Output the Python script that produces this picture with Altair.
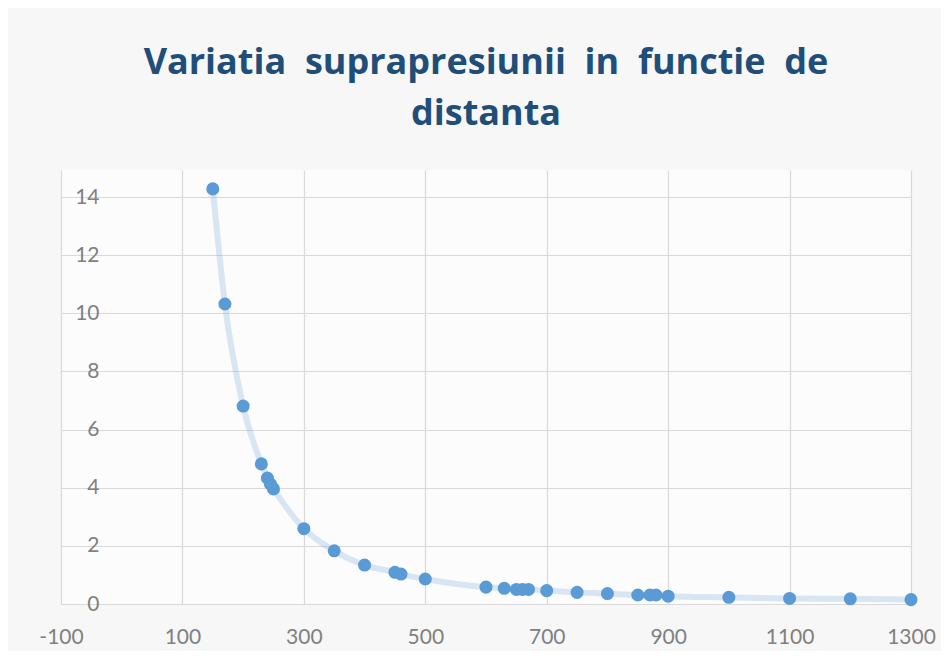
import altair as alt
import pandas as pd

# distance (m) and overpressure values
distanta = [150, 170, 200, 230, 240, 245, 250, 300, 350, 400, 450, 460, 500,
            600, 630, 650, 660, 670, 700, 750, 800, 850, 870, 880, 900,
            1000, 1100, 1200, 1300]
suprapresiune = [14.28, 10.32, 6.81, 4.82, 4.33, 4.12, 3.96, 2.59, 1.83, 1.34,
                 1.09, 1.03, 0.86, 0.58, 0.54, 0.50, 0.50, 0.50, 0.46, 0.40,
                 0.36, 0.31, 0.31, 0.31, 0.27, 0.23, 0.19, 0.18, 0.15]

x_ticks = [-100, 100, 300, 500, 700, 900, 1100, 1300]
y_ticks = [0, 2, 4, 6, 8, 10, 12, 14]

title_lines = ["Variatia\u00a0 suprapresiunii\u00a0 in\u00a0 functie\u00a0 de",
               "distanta"]

df = pd.DataFrame({"distanta": distanta, "suprapresiune": suprapresiune})

x_enc = alt.X(
    "distanta:Q",
    scale=alt.Scale(domain=[-100, 1300], nice=False, zero=False),
    axis=alt.Axis(
        values=x_ticks, title=None, domain=False, ticks=False, tickSize=0,
        labelExpr="datum.value + ''",
        labelPadding=22, labelFontSize=21, labelFont="Lato",
        labelColor="#808080", gridColor="#d9d9d9", gridWidth=1.2,
        labelFlush=False, labelOverlap=False,
    ),
)
y_enc = alt.Y(
    "suprapresiune:Q",
    scale=alt.Scale(domain=[0, 14.93], nice=False),
    axis=alt.Axis(
        values=y_ticks, title=None, domain=False, ticks=False, tickSize=0,
        labelExpr="datum.value + ''",
        labelPadding=-38, labelFontSize=21, labelFont="Lato",
        labelColor="#808080", gridColor="#d9d9d9", gridWidth=1.2,
        labelFlush=False, labelOverlap=False,
    ),
)

line = alt.Chart(df).mark_line(
    interpolate="monotone", color="#5B9BD5", strokeWidth=6, opacity=0.22
).encode(x=x_enc, y=y_enc)

points = alt.Chart(df).mark_circle(
    color="#5B9BD5", size=170, opacity=1
).encode(x=x_enc, y=y_enc)

chart = alt.layer(line, points).properties(
    width=850,
    height=434,
    autosize=alt.AutoSizeParams(type="none"),
    padding={"left": 53, "top": 162, "right": 30, "bottom": 47},
    title=alt.TitleParams(
        text=title_lines,
        font="Open Sans", fontSize=36, fontWeight="bold", color="#1F4E79",
        lineHeight=51, anchor="middle", frame="group", offset=37,
    ),
).configure(background="#f7f7f7").configure_view(
    stroke=None,
    fill="#fcfcfc",
)

chart.save("out.html", embed_options={"renderer": "svg", "actions": False})
